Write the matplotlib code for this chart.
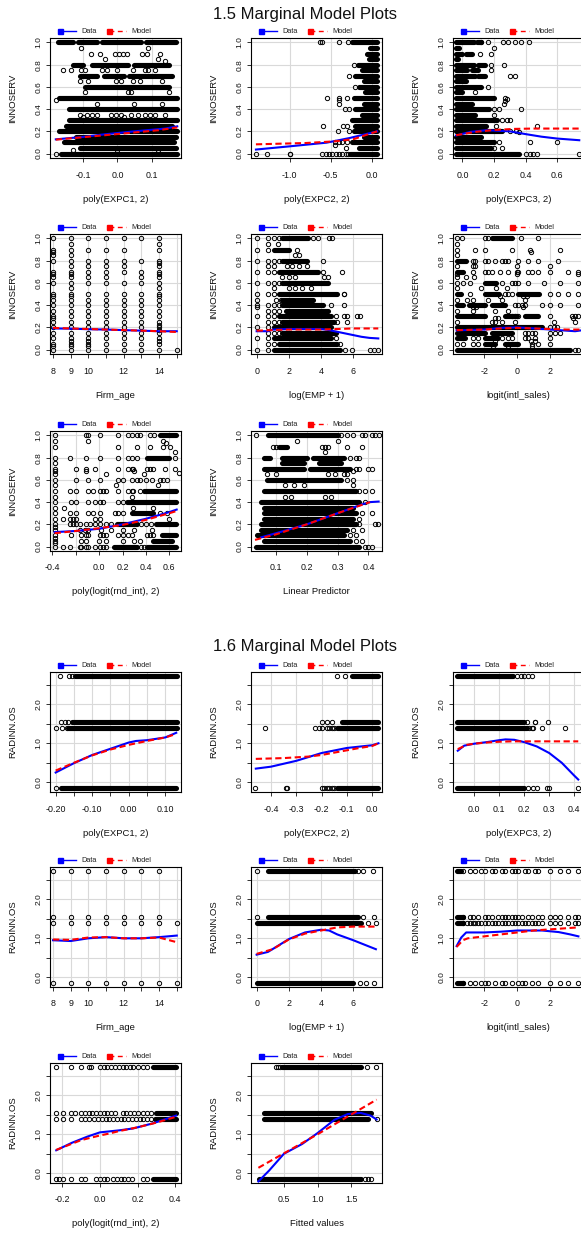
import matplotlib
matplotlib.use("Agg")
import matplotlib.pyplot as plt

plt.rcParams['font.family'] = ['Liberation Sans', 'DejaVu Sans']
plt.rcParams['lines.scale_dashes'] = False

W, H, DPI = 581, 1233, 100

# ---------------------------------------------------------------- data
# Dense runs of overlapping points are stored as (y, x_from, x_to);
# isolated points as (y, [x, ...]) rows or (x, [y, ...]) columns.

# ===== 1.5  INNOSERV =====
expc1_runs = [(1.0, -0.175, -0.13), (1.0, -0.115, -0.06), (1.0, -0.045, 0.07), (1.0, 0.085, 0.17),
              (0.8, -0.13, -0.10), (0.8, -0.075, 0.03), (0.8, 0.05, 0.15),
              (0.7, -0.11, -0.06), (0.7, -0.04, 0.02), (0.7, 0.035, 0.16),
              (0.6, -0.095, 0.15), (0.5, -0.17, 0.175), (0.4, -0.14, 0.175),
              (0.3, -0.14, 0.175), (0.25, -0.15, 0.16), (0.2, -0.17, 0.175),
              (0.15, -0.12, 0.17), (0.1, -0.155, 0.165), (0.05, -0.11, 0.17),
              (0.0, -0.165, 0.175)]
expc1_rows = [(0.95, [-0.105, 0.09]),
              (0.9, [-0.078, -0.051, -0.006, 0.005, 0.016, 0.028, 0.072, 0.086, 0.125]),
              (0.85, [-0.035, 0.12]), (0.83, [0.14]),
              (0.75, [-0.16, -0.135, -0.105, -0.095, -0.045, -0.03, 0.0, 0.045, 0.08, 0.09, 0.11]),
              (0.65, [-0.11, -0.085, -0.005, 0.01, 0.045, 0.065, 0.13]),
              (0.55, [-0.095, 0.03, 0.04, 0.15]), (0.48, [-0.18]),
              (0.45, [-0.06, 0.05, 0.13]),
              (0.35, [-0.11, -0.09, -0.075, -0.06, -0.02, -0.005, 0.01, 0.04, 0.06, 0.08, 0.095, 0.11, 0.14]),
              (0.33, [-0.1, 0.02]), (0.03, [-0.13, 0.0, 0.12]), (0.0, [-0.18])]
expc1_data = [(-0.18, 0.128), (-0.1, 0.15), (-0.047, 0.17), (0.05, 0.2), (0.14, 0.225), (0.175, 0.245)]
expc1_model = [(-0.18, 0.125), (-0.09, 0.15), (0.05, 0.19), (0.12, 0.21), (0.175, 0.235)]

expc2_runs = [(1.0, -0.24, 0.065), (0.95, -0.02, 0.065), (0.9, -0.06, 0.065), (0.85, -0.03, 0.065),
              (0.8, -0.17, 0.065), (0.75, -0.12, 0.065), (0.7, -0.2, 0.065), (0.65, -0.1, 0.065),
              (0.6, -0.15, 0.065), (0.55, -0.08, 0.065), (0.5, -0.22, 0.065), (0.45, -0.1, 0.065),
              (0.4, -0.2, 0.065), (0.35, -0.12, 0.065), (0.3, -0.24, 0.065), (0.25, -0.2, 0.065),
              (0.2, -0.22, 0.065), (0.15, -0.1, 0.065), (0.1, -0.24, 0.065), (0.05, -0.15, 0.065),
              (0.0, -0.26, 0.065)]
expc2_rows = [(1.0, [-0.63, -0.6, -0.4, -0.29]), (0.8, [-0.22]), (0.7, [-0.28]), (0.6, [-0.2]),
              (0.5, [-0.55, -0.4, -0.3]), (0.48, [-0.4]), (0.45, [-0.4]), (0.4, [-0.33, -0.28]),
              (0.25, [-0.59, -0.35, -0.3]), (0.2, [-0.41, -0.28]), (0.1, [-0.45, -0.4, -0.36, -0.3]),
              (0.08, [-0.45]), (0.05, [-0.31]),
              (0.0, [-1.41, -1.27, -1.0, -0.99, -0.6, -0.56, -0.52, -0.48, -0.44, -0.4, -0.36, -0.32, -0.29])]
expc2_data = [(-1.41, 0.036), (-1.0, 0.065), (-0.55, 0.098), (-0.27, 0.14), (-0.1, 0.17), (0.065, 0.2)]
expc2_model = [(-1.41, 0.083), (-0.8, 0.095), (-0.45, 0.11), (-0.22, 0.13), (-0.06, 0.17), (0.065, 0.2)]

expc3_runs = [(1.0, -0.04, 0.07), (1.0, 0.09, 0.12), (0.95, -0.04, -0.02), (0.9, -0.04, 0.0),
              (0.9, 0.02, 0.06), (0.85, -0.04, -0.03), (0.8, -0.04, 0.07), (0.8, 0.1, 0.14),
              (0.75, -0.04, 0.03), (0.75, 0.06, 0.1), (0.7, -0.04, 0.08), (0.7, 0.1, 0.14),
              (0.65, -0.04, 0.02), (0.6, -0.04, 0.12), (0.55, -0.04, 0.0), (0.5, -0.04, 0.2),
              (0.45, -0.04, 0.06), (0.4, -0.04, 0.17), (0.35, -0.04, 0.08), (0.3, -0.04, 0.22),
              (0.25, -0.04, 0.15), (0.2, -0.04, 0.25), (0.15, -0.04, 0.12), (0.1, -0.04, 0.2),
              (0.05, -0.04, 0.18), (0.0, -0.04, 0.36)]
expc3_rows = [(1.0, [0.12, 0.163, 0.256, 0.288, 0.33, 0.37, 0.42]), (0.95, [0.2]),
              (0.9, [0.11, 0.18]), (0.8, [0.18, 0.26]), (0.75, [0.18]), (0.7, [0.3, 0.33]),
              (0.6, [0.16]), (0.55, [0.08]), (0.5, [0.27]), (0.49, [0.28]), (0.47, [0.27]),
              (0.45, [0.26]), (0.4, [0.2, 0.23, 0.37]), (0.35, [0.2]), (0.3, [0.25, 0.28, 0.3]),
              (0.25, [0.21, 0.47]), (0.2, [0.3, 0.34]), (0.19, [0.36]), (0.1, [0.23, 0.43, 0.6]),
              (0.05, [0.2, 0.25]), (0.0, [0.4, 0.43, 0.45, 0.47, 0.74])]
expc3_data = [(-0.04, 0.163), (0.05, 0.195), (0.15, 0.21), (0.3, 0.2), (0.4, 0.175),
              (0.5, 0.152), (0.6, 0.135), (0.74, 0.12)]
expc3_model = [(-0.04, 0.165), (0.08, 0.195), (0.2, 0.212), (0.33, 0.222), (0.45, 0.225), (0.74, 0.225)]

age_cols = [(8, [1.0, 0.9, 0.88, 0.85, 0.8, 0.7, 0.68, 0.65, 0.6, 0.5, 0.48, 0.45, 0.4, 0.35, 0.3,
                 0.28, 0.25, 0.2, 0.15, 0.1, 0.05, 0.03, 0.0]),
            (9, [1.0, 0.95, 0.9, 0.85, 0.8, 0.75, 0.7, 0.68, 0.65, 0.6, 0.55, 0.5, 0.48, 0.45, 0.4,
                 0.35, 0.3, 0.25, 0.2, 0.15, 0.1, 0.08, 0.05, 0.03, 0.0]),
            (10, [1.0, 0.9, 0.8, 0.75, 0.7, 0.65, 0.6, 0.5, 0.45, 0.4, 0.35, 0.3, 0.25, 0.2, 0.15,
                  0.1, 0.08, 0.05, 0.03, 0.0]),
            (11, [1.0, 0.9, 0.8, 0.75, 0.7, 0.65, 0.6, 0.5, 0.45, 0.4, 0.35, 0.3, 0.25, 0.2, 0.15,
                  0.1, 0.05, 0.0]),
            (12, [1.0, 0.9, 0.8, 0.75, 0.7, 0.6, 0.5, 0.45, 0.4, 0.35, 0.3, 0.25, 0.2, 0.15, 0.1,
                  0.05, 0.0]),
            (13, [1.0, 0.8, 0.7, 0.65, 0.6, 0.5, 0.45, 0.4, 0.35, 0.3, 0.25, 0.2, 0.15, 0.1, 0.05, 0.0]),
            (14, [1.0, 0.95, 0.9, 0.8, 0.78, 0.75, 0.7, 0.68, 0.65, 0.6, 0.55, 0.5, 0.48, 0.45, 0.4,
                  0.35, 0.3, 0.25, 0.22, 0.2, 0.18, 0.15, 0.1, 0.08, 0.05, 0.0]),
            (15, [0.0])]
age_data = [(8, 0.19), (9, 0.188), (10, 0.183), (11, 0.18), (12, 0.175), (13, 0.17), (14, 0.165), (15, 0.165)]
age_model = [(8, 0.195), (9, 0.19), (10, 0.185), (11, 0.18), (12, 0.175), (13, 0.17), (14, 0.165), (15, 0.158)]

emp_runs = [(1.0, 1.6, 3.2), (0.9, 1.1, 2.0), (0.8, 1.6, 3.1), (0.7, 1.4, 3.8), (0.6, 1.6, 4.4),
            (0.5, 1.4, 5.0), (0.45, 1.6, 3.5), (0.4, 1.6, 4.1), (0.35, 1.8, 4.4), (0.3, 1.4, 4.6),
            (0.25, 1.6, 4.8), (0.2, 1.1, 4.6), (0.15, 1.6, 4.9), (0.1, 1.1, 4.6), (0.05, 1.4, 5.0),
            (0.0, 1.1, 5.2)]
emp_rows = [(1.0, [0, 0.69, 1.1, 1.39, 3.5, 3.8, 4.5, 4.7]), (0.95, [0.69, 1.3]), (0.9, [0, 0.69, 2.5]),
            (0.85, [2.4, 2.6]), (0.8, [0, 0.69, 1.1, 1.39, 4.1]), (0.75, [0.69, 1.1, 1.9, 2.2, 2.6, 3.1]),
            (0.7, [0, 0.69, 1.1, 4.1, 5.3]), (0.65, [1.6, 2.0, 2.4, 4.2, 4.4]), (0.6, [0, 0.69, 1.1, 1.39]),
            (0.55, [1.1, 2.0, 2.4, 2.8, 3.4]), (0.5, [0, 0.69, 1.1, 5.4, 5.45]), (0.45, [0, 1.2, 1.5]),
            (0.4, [0, 0.69, 1.1, 1.39, 4.6, 5.4]), (0.38, [0]), (0.35, [0.69, 1.1, 1.39]),
            (0.3, [0, 0.69, 1.1, 4.9, 5.4, 5.6, 6.2, 6.4]), (0.25, [0.69, 1.1, 1.39, 5.0, 5.6]),
            (0.2, [0, 0.69]), (0.15, [0.69, 1.1, 1.39]), (0.1, [0, 0.69, 4.9]),
            (0.05, [0.69, 1.1, 5.2]), (0.0, [0, 0.69, 5.5, 5.9, 7.04, 7.3, 7.55])]
emp_data = [(0, 0.165), (0.7, 0.165), (1.0, 0.18), (2, 0.185), (3, 0.185), (4, 0.185), (4.5, 0.175),
            (5, 0.16), (5.5, 0.145), (6, 0.13), (6.5, 0.115), (7, 0.105), (7.55, 0.1)]
emp_model = [(0, 0.17), (1, 0.175), (2, 0.18), (4, 0.18), (5, 0.185), (6, 0.19), (7.55, 0.19)]

intl_runs = [(1.0, -1.55, -0.3), (0.8, -3.68, -3.1), (0.7, -3.68, -3.3), (0.6, -1.95, -1.3),
             (0.5, -3.68, -3.4), (0.5, -1.95, -1.1), (0.5, 0.06, 1.3), (0.4, -3.68, -3.3),
             (0.4, -2.9, -1.95), (0.4, -1.55, -0.75), (0.3, -3.68, -1.95), (0.3, -0.75, 0.0),
             (0.3, 0.47, 1.27), (0.2, -3.68, 1.5), (0.15, -3.68, -1.95), (0.15, -1.55, -0.34),
             (0.1, -3.68, -3.2), (0.1, -1.95, -1.15), (0.05, -1.95, -1.35), (0.05, -0.75, 0.06),
             (0.0, -3.68, 3.2)]
intl_rows = [(1.0, [-3.68, -3.38, -1.95, -1.75, 0.2, 1.27]), (0.95, [-3.68]),
             (0.9, [-3.68, -2.56, -1.95, -0.34, 0.77, 2.6]), (0.88, [0.8]), (0.85, [-3.68]),
             (0.8, [-2.66, -2.56, -1.95, -1.75, -1.35, -0.95, -0.75, -0.55, 0.06, 0.67, 1.27, 2.49]),
             (0.75, [-3.68, -2.7, -2.56, -0.05, 1.98]),
             (0.7, [-2.66, -1.95, -1.75, -1.55, -1.05, -0.55, -0.05, 0.06, 0.67, 0.87, 1.27, 1.98, 3.09, 3.7]),
             (0.68, [-3.68, -0.05, 3.7]), (0.65, [-3.68, -3.1, -2.6]),
             (0.6, [-3.68, -3.27, -2.87, -0.95, -0.34, -0.14, 0.06, 0.67, 1.6, 2.59, 3.7]),
             (0.55, [-3.68, -2.2, -1.3, -0.6]),
             (0.5, [-2.87, -0.75, -0.55, -0.34, 1.98, 2.49, 3.09, 3.7]), (0.48, [-1.05, 0.37, 0.57]),
             (0.45, [-3.68, -3.07, -2.66, -1.75, -0.95, 0.47]),
             (0.4, [-2.8, -0.14, 0.06, 0.26, 0.47, 1.48, 1.98, 2.59, 3.7]), (0.38, [-2.66, -2.5, 0.37]),
             (0.35, [-3.68, -2.66, -1.35, -0.55]), (0.3, [-0.34, -0.14, 0.06, 1.98, 3.29, 3.5, 3.7]),
             (0.28, [-1.35, -1.2, 3.4]), (0.25, [-3.68, -1.55, -1.35, -0.95, -0.14, 2.2, 3.5]),
             (0.2, [1.98, 2.2, 2.4]), (0.15, [0.47, 0.67, 0.87, 1.07, 1.98, 2.29, 2.59]),
             (0.1, [-2.66, -2.36, -0.95, -0.55, -0.34, 0.47, 0.67, 1.07, 1.98]), (0.08, [-1.35, 0.8, 1.07]),
             (0.05, [-3.68, -3.27, -2.66, -2.36, 0.87, 1.27, 2.0]), (0.03, [-1.5, -0.55, 0.9]),
             (0.0, [3.5, 3.7])]
intl_data = [(-3.68, 0.173), (-2.5, 0.178), (-2, 0.18), (-1, 0.195), (0, 0.2), (1, 0.19), (2, 0.18),
             (3, 0.17), (3.5, 0.165), (4.0, 0.175)]
intl_model = [(-3.68, 0.175), (-2, 0.18), (-1, 0.19), (0, 0.195), (1, 0.19), (2, 0.185), (3, 0.18), (4.0, 0.18)]

rnd_col_x = -0.38
rnd_col_y = [1.0, 0.95, 0.9, 0.8, 0.75, 0.7, 0.68, 0.65, 0.6, 0.55, 0.5, 0.45, 0.4, 0.35, 0.3,
             0.25, 0.2, 0.18, 0.15, 0.1, 0.08, 0.05, 0.03, 0.0]
rnd_runs = [(1.0, 0.52, 0.66), (0.8, 0.41, 0.6), (0.5, 0.38, 0.66), (0.4, 0.24, 0.66),
            (0.3, 0.28, 0.46), (0.2, 0.15, 0.32), (0.2, 0.49, 0.66), (0.1, 0.54, 0.66),
            (0.05, 0.46, 0.62), (0.0, 0.13, 0.32), (0.0, 0.41, 0.66)]
rnd_rows = [(1.0, [-0.109, -0.094, 0.006, 0.163, 0.249, 0.278, 0.32, 0.349, 0.435, 0.47]),
            (0.95, [-0.094, 0.55]), (0.93, [0.57]), (0.9, [0.163, 0.32, 0.435, 0.549, 0.606]),
            (0.85, [0.65]), (0.8, [-0.25, -0.109, 0.006, 0.163, 0.249, 0.278, 0.32, 0.65]),
            (0.7, [-0.194, -0.109, -0.037, 0.163, 0.249, 0.278, 0.292, 0.406, 0.435, 0.463, 0.563, 0.649]),
            (0.68, [-0.109, 0.3]), (0.66, [0.68]), (0.65, [0.06, 0.38]),
            (0.6, [-0.194, -0.094, 0.006, 0.163, 0.206, 0.278, 0.32, 0.349, 0.4, 0.45, 0.52, 0.55, 0.58]),
            (0.55, [0.14, 0.5]),
            (0.5, [-0.25, -0.194, -0.094, -0.05, 0.006, 0.035, 0.063, 0.163, 0.249, 0.278, 0.292, 0.349]),
            (0.45, [0.28]), (0.4, [-0.237, -0.194, -0.094, -0.037, 0.006, 0.035, 0.163, 0.206]),
            (0.35, [-0.3, 0.29, 0.46]),
            (0.3, [-0.25, -0.194, -0.094, -0.05, 0.006, 0.135, 0.163, 0.206, 0.52, 0.58]),
            (0.25, [-0.31, -0.25, -0.22, -0.194, -0.037, 0.006, 0.6]),
            (0.2, [-0.25, -0.22, -0.194, -0.166, -0.109, -0.08, -0.037, 0.006, 0.063, 0.1, 0.36, 0.4, 0.44]),
            (0.15, [-0.166, -0.12, -0.094, 0.02, 0.1, 0.2, 0.3, 0.45]),
            (0.1, [-0.237, -0.152, -0.109, -0.094, 0.006, 0.035, 0.063, 0.163, 0.206, 0.249, 0.278, 0.406, 0.435, 0.463]),
            (0.05, [-0.152, -0.109, 0.0, 0.06, 0.2, 0.3, 0.35]),
            (0.0, [-0.31, -0.25, -0.166, -0.152, -0.109, -0.094, -0.037, 0.006, 0.035, 0.063, 0.36, 0.38])]
rnd_data = [(-0.38, 0.13), (-0.2, 0.14), (0.0, 0.16), (0.2, 0.2), (0.4, 0.25), (0.6, 0.31), (0.663, 0.333)]
rnd_model = [(-0.38, 0.12), (-0.2, 0.14), (0.0, 0.165), (0.2, 0.195), (0.4, 0.24), (0.6, 0.3), (0.663, 0.32)]

lp_runs = [(1.0, 0.075, 0.3), (0.9, 0.11, 0.135), (0.8, 0.06, 0.08), (0.8, 0.12, 0.2), (0.8, 0.22, 0.32),
           (0.75, 0.12, 0.19), (0.75, 0.24, 0.31), (0.7, 0.06, 0.19), (0.7, 0.21, 0.34),
           (0.6, 0.07, 0.31), (0.5, 0.06, 0.36), (0.4, 0.05, 0.37), (0.35, 0.06, 0.35),
           (0.3, 0.06, 0.36), (0.25, 0.06, 0.35), (0.2, 0.05, 0.36), (0.15, 0.05, 0.33),
           (0.1, 0.04, 0.32), (0.05, 0.06, 0.34), (0.0, 0.036, 0.37)]
lp_rows = [(1.0, [0.036, 0.31, 0.33, 0.35, 0.38, 0.39, 0.41, 0.422, 0.433]), (0.95, [0.167, 0.3]),
           (0.9, [0.09, 0.1, 0.25, 0.26, 0.27, 0.33, 0.38]), (0.85, [0.26]), (0.8, [0.34, 0.36, 0.37]),
           (0.7, [0.36, 0.37, 0.4, 0.41]), (0.68, [0.35]), (0.65, [0.07, 0.1, 0.27, 0.29, 0.32, 0.33]),
           (0.6, [0.33, 0.35]), (0.55, [0.13, 0.16, 0.19, 0.35]), (0.5, [0.37, 0.39, 0.41]),
           (0.45, [0.13, 0.15, 0.26, 0.28]), (0.4, [0.39]), (0.3, [0.38, 0.41]), (0.25, [0.37]),
           (0.2, [0.37, 0.422, 0.43]), (0.15, [0.35, 0.38]), (0.1, [0.34, 0.36]), (0.05, [0.36, 0.38]),
           (0.0, [0.39, 0.4, 0.41])]
lp_data = [(0.052, 0.083), (0.1, 0.12), (0.2, 0.2), (0.3, 0.3), (0.38, 0.38), (0.405, 0.4), (0.433, 0.405)]
lp_model = [(0.032, 0.06), (0.1, 0.11), (0.2, 0.2), (0.3, 0.3), (0.405, 0.4)]

# ===== 1.6  RADINN.OS =====
LO, M1, M2, HI = -0.135, 1.385, 1.535, 2.72

r_expc1_runs = [(HI, -0.147, 0.131), (M2, -0.155, 0.131), (M1, -0.165, 0.131), (LO, -0.185, 0.128)]
r_expc1_rows = [(HI, [-0.188, -0.163, -0.155]), (M2, [-0.185, -0.175, -0.165]),
                (M1, [-0.2, -0.183, -0.17]), (LO, [-0.2])]
r_expc1_data = [(-0.2, 0.25), (-0.15, 0.49), (-0.1, 0.70), (-0.05, 0.86), (0.0, 1.02), (0.02, 1.06),
                (0.05, 1.08), (0.1, 1.15), (0.13, 1.27)]
r_expc1_model = [(-0.2, 0.3), (-0.15, 0.5), (-0.1, 0.69), (-0.05, 0.84), (0.0, 0.96), (0.05, 1.06),
                 (0.1, 1.15), (0.13, 1.24)]

r_expc2_runs = [(HI, -0.081, 0.025), (M2, -0.12, 0.025), (M1, -0.14, 0.025), (LO, -0.14, 0.025)]
r_expc2_rows = [(HI, [-0.14, -0.107]), (M2, [-0.2, -0.18, -0.16]),
                (M1, [-0.424, -0.225, -0.21, -0.2, -0.18, -0.17, -0.16, -0.15]),
                (LO, [-0.463, -0.34, -0.335, -0.2, -0.19, -0.18, -0.17, -0.16, -0.15])]
r_expc2_data = [(-0.46, 0.35), (-0.4, 0.4), (-0.3, 0.55), (-0.2, 0.75), (-0.1, 0.88), (0.0, 0.95), (0.025, 1.0)]
r_expc2_model = [(-0.46, 0.6), (-0.35, 0.62), (-0.25, 0.66), (-0.2, 0.7), (-0.1, 0.82), (-0.05, 0.88),
                 (0.0, 0.93), (0.025, 1.0)]

r_expc3_runs = [(HI, -0.071, 0.156), (M2, -0.071, 0.2), (M1, -0.071, 0.21), (LO, -0.071, 0.2)]
r_expc3_rows = [(HI, [0.17, 0.185, 0.2, 0.215, 0.23]), (M2, [0.21, 0.243, 0.244, 0.296]),
                (M1, [0.22, 0.23, 0.236, 0.27, 0.363]), (LO, [0.216, 0.236, 0.25, 0.29, 0.299, 0.416])]
r_expc3_data = [(-0.066, 0.81), (-0.04, 0.94), (0.0, 0.99), (0.05, 1.03), (0.1, 1.08), (0.125, 1.1),
                (0.16, 1.09), (0.2, 1.03), (0.25, 0.92), (0.3, 0.75), (0.35, 0.5), (0.4, 0.17), (0.416, 0.07)]
r_expc3_model = [(-0.066, 0.85), (-0.03, 0.96), (0.0, 0.99), (0.05, 1.02), (0.1, 1.04), (0.15, 1.05),
                 (0.2, 1.05), (0.3, 1.05), (0.416, 1.05)]

r_age_cols = [(8, [HI, M2, M1, LO]), (9, [HI, M2, M1, LO]), (10, [HI, M2, M1, LO]), (11, [HI, M2, M1, LO]),
              (12, [HI, M2, M1, LO]), (13, [HI, M2, M1, LO]), (14, [HI, M2, M1, LO]), (15, [M1, LO])]
r_age_data = [(8, 0.95), (9, 0.93), (10, 1.0), (11, 1.03), (12, 1.0), (13, 1.0), (14, 1.03), (15, 1.07)]
r_age_model = [(8, 0.97), (9, 0.96), (10, 1.02), (11, 1.03), (12, 1.0), (13, 1.0), (14, 1.02), (15, 0.9)]

r_emp_runs = [(HI, 0.69, 6.1), (M2, 0.69, 6.3), (M1, 0.0, 6.5), (LO, 0.0, 6.0)]
r_emp_rows = [(HI, [0, 6.3, 6.6, 7.2]), (M2, [0, 6.6, 7.3]), (M1, [6.9, 7.4]), (LO, [6.4, 6.8, 7.3])]
r_emp_data = [(0, 0.58), (0.7, 0.65), (1.1, 0.75), (2, 0.98), (3, 1.15), (4, 1.22), (4.5, 1.2), (5, 1.1),
              (6, 0.95), (7.4, 0.72)]
r_emp_model = [(0, 0.6), (1, 0.72), (2, 0.97), (3, 1.12), (4, 1.2), (5, 1.28), (6, 1.3), (7.4, 1.3)]

r_intl_runs = [(HI, -3.68, -3.4), (M2, -3.68, -3.3), (M1, -3.68, -3.3), (LO, -3.68, -3.3)]
r_intl_rows = [(HI, [-3.27, -2.87, -2.56, -2.2, -1.95, -1.55, -1.35, -0.95, -0.75, -0.34, -0.14, 0.06,
                     0.47, 0.67, 1.07, 1.27, 1.98, 2.59, 3.09, 3.7]),
               (M2, [-3.27, -2.87, -2.66, -2.36, -1.95, -1.75, -1.55, -1.15, -0.95, -0.75, -0.55, -0.34,
                     -0.14, 0.06, 0.26, 0.67, 0.87, 1.27, 1.48, 1.98, 2.29, 2.59, 3.09, 3.5, 3.7]),
               (M1, [-3.27, -3.07, -2.87, -2.66, -2.56, -2.36, -2.2, -1.95, -1.75, -1.55, -1.35, -1.15,
                     -0.95, -0.75, -0.55, -0.34, -0.14, 0.06, 0.26, 0.47, 0.67, 0.87, 1.07, 1.27, 1.48,
                     1.98, 2.29, 2.59, 3.09, 3.5, 3.7]),
               (LO, [-3.27, -2.87, -2.56, -2.2, -1.95, -1.75, -1.35, -0.95, -0.75, -0.34, 0.06, 0.26,
                     0.47, 0.87, 1.27, 1.98, 2.59, 3.09, 3.7])]
r_intl_data = [(-3.68, 0.8), (-3.4, 1.02), (-3.1, 1.15), (-2, 1.15), (-1, 1.17), (0, 1.2), (1.5, 1.2),
               (2.5, 1.16), (3.2, 1.1), (3.7, 1.05)]
r_intl_model = [(-3.68, 0.78), (-3.3, 0.95), (-3, 1.0), (-2, 1.05), (-1, 1.1), (0, 1.15), (1, 1.2),
                (2, 1.23), (3, 1.26), (3.7, 1.28)]

r_rnd_runs = [(HI, 0.28, 0.404), (M2, 0.3, 0.404), (M1, 0.29, 0.404), (LO, 0.28, 0.404)]
r_rnd_rows = [(HI, [-0.232, -0.155, -0.1, -0.06, -0.05, 0.0, 0.02, 0.04, 0.06, 0.08, 0.1, 0.12, 0.14,
                    0.16, 0.176, 0.2, 0.23, 0.25]),
              (M2, [-0.232, -0.195, -0.155, -0.135, -0.1, -0.08, -0.056, -0.04, -0.02, 0.0, 0.02, 0.04,
                    0.06, 0.08, 0.12, 0.14, 0.16, 0.18, 0.2, 0.23, 0.25, 0.27]),
              (M1, [-0.232, -0.195, -0.155, -0.1, -0.08, -0.06, -0.03, -0.01, 0.01, 0.03, 0.05, 0.07,
                    0.09, 0.11, 0.13, 0.15, 0.17, 0.19, 0.21, 0.23, 0.25, 0.27]),
              (LO, [-0.232, -0.215, -0.195, -0.155, -0.1, -0.08, -0.02, 0.0, 0.02, 0.04, 0.07, 0.09,
                    0.11, 0.13, 0.15, 0.17, 0.23, 0.25])]
r_rnd_data = [(-0.232, 0.59), (-0.15, 0.78), (-0.067, 0.94), (0.0, 1.05), (0.1, 1.1), (0.176, 1.15),
              (0.28, 1.28), (0.404, 1.48)]
r_rnd_model = [(-0.232, 0.6), (-0.1, 0.85), (0.0, 0.97), (0.05, 1.02), (0.1, 1.08), (0.2, 1.18),
               (0.3, 1.3), (0.404, 1.45)]

r_fit_runs = [(HI, 0.47, 1.64), (M2, 0.21, 1.79), (M1, 0.21, 1.75), (LO, 0.13, 1.64)]
r_fit_rows = [(HI, [0.38, 0.41, 0.44, 1.73, 1.87]), (M1, [1.88]), (LO, [1.7, 1.75, 1.8])]
r_fit_data = [(0.12, -0.21), (0.28, 0.07), (0.5, 0.5), (0.77, 0.75), (1.0, 1.03), (1.25, 1.37),
              (1.45, 1.52), (1.64, 1.55), (1.79, 1.48), (1.88, 1.38)]
r_fit_model = [(0.12, 0.14), (1.0, 1.0), (1.88, 1.89)]

# ---------------------------------------------------------------- layout
PW, PH = 131, 120
COLS = [50, 251, 453]
ROWS_A = [38, 234, 431]
ROWS_B = [672, 867, 1063]

fig = plt.figure(figsize=(W / DPI, H / DPI), dpi=DPI)
fig.patch.set_facecolor('white')
over = fig.add_axes([0, 0, 1, 1])
over.set_xlim(0, W)
over.set_ylim(H, 0)
over.axis('off')

INNO_YT = [0, 0.2, 0.4, 0.6, 0.8, 1.0]
INNO_YL = ['0.0', '0.2', '0.4', '0.6', '0.8', '1.0']
RAD_YT = [0, 0.5, 1.0, 1.5, 2.0, 2.5]
RAD_YL = ['0.0', '', '1.0', '', '2.0', '']


def split_rows(rows):
    xs, ys = [], []
    for y, xl in rows:
        xs += list(xl)
        ys += [y] * len(xl)
    return xs, ys


def split_cols(cols):
    xs, ys = [], []
    for x, yl in cols:
        xs += [x] * len(yl)
        ys += list(yl)
    return xs, ys


def panel(col, top, xlim, ylim, xticks, xlabels, yticks, ylabels, xlabel, ylabel,
          data, model, runs=(), rows=(), cols=()):
    left = COLS[col]
    ax = fig.add_axes([left / W, 1 - (top + PH) / H, PW / W, PH / H])
    ax.set_xlim(*xlim)
    ax.set_ylim(*ylim)
    ax.set_xticks(xticks)
    ax.set_xticklabels(xlabels)
    ax.set_yticks(yticks)
    ax.set_yticklabels(ylabels, rotation=90, va='center', ha='right')
    ax.grid(True, color='#d9d9d9', lw=0.8)
    ax.set_axisbelow(True)
    for s in ax.spines.values():
        s.set_linewidth(0.8)
        s.set_color('black')
    ax.tick_params(axis='x', direction='out', length=3, width=0.6, labelsize=6.4, pad=6, colors='#111111')
    ax.tick_params(axis='y', direction='out', length=3, width=0.6, labelsize=6.0, pad=2.5, colors='#111111')

    if runs:
        ax.hlines([r[0] for r in runs], [r[1] for r in runs], [r[2] for r in runs],
                  colors='black', linewidth=3.7, capstyle='round', zorder=2)
    xs, ys = [], []
    if rows:
        a, b = split_rows(rows)
        xs += a
        ys += b
    if cols:
        a, b = split_cols(cols)
        xs += a
        ys += b
    if xs:
        ax.plot(xs, ys, 'o', ls='none', mfc='none', mec='black', ms=3.1, mew=0.7, zorder=2)

    ax.plot([p[0] for p in data], [p[1] for p in data], color='#0000ff', lw=1.5, zorder=3)
    ax.plot([p[0] for p in model], [p[1] for p in model], color='#ff0000', lw=1.5,
            dashes=(4.5, 2.5), zorder=4)

    # legend strip above the panel
    ly = top - 7
    over.plot([left + 9.5, left + 26], [ly, ly], color='#0000ff', lw=1.0)
    over.plot([left + 9.5], [ly], 's', color='#0000ff', ms=3.6)
    over.text(left + 31, ly + 0.5, 'Data', fontsize=5.3, color='#222222', ha='left', va='center')
    over.plot([left + 59, left + 76], [ly, ly], color='#ff0000', lw=1.0, dashes=(3.5, 2.5))
    over.plot([left + 59], [ly], 's', color='#ff0000', ms=3.6)
    over.text(left + 81, ly + 0.5, 'Model', fontsize=5.3, color='#222222', ha='left', va='center')

    over.text(left + PW / 2, top + PH + 41, xlabel, fontsize=6.8, ha='center', va='center', color='#111111')
    over.text(left - 37, top + PH / 2, ylabel, fontsize=6.8, ha='center', va='center',
              rotation=90, color='#111111')
    return ax


over.text(305, 14, '1.5 Marginal Model Plots', fontsize=12, ha='center', va='center', color='#111111')
over.text(305, 647, '1.6 Marginal Model Plots', fontsize=12, ha='center', va='center', color='#111111')

IY = (-0.04, 1.04)
RY = (-0.25, 2.83)

panel(0, ROWS_A[0], (-0.197, 0.186), IY, [-0.1, 0.0, 0.1], ['-0.1', '0.0', '0.1'], INNO_YT, INNO_YL,
      'poly(EXPC1, 2)', 'INNOSERV', expc1_data, expc1_model, runs=expc1_runs, rows=expc1_rows)
panel(1, ROWS_A[0], (-1.47, 0.124), IY, [-1.0, -0.5, 0.0], ['-1.0', '-0.5', '0.0'], INNO_YT, INNO_YL,
      'poly(EXPC2, 2)', 'INNOSERV', expc2_data, expc2_model, runs=expc2_runs, rows=expc2_rows)
panel(2, ROWS_A[0], (-0.06, 0.77), IY, [0.0, 0.2, 0.4, 0.6], ['0.0', '0.2', '0.4', '0.6'], INNO_YT, INNO_YL,
      'poly(EXPC3, 2)', 'INNOSERV', expc3_data, expc3_model, runs=expc3_runs, rows=expc3_rows)
panel(0, ROWS_A[1], (7.83, 15.24), IY, [8, 9, 10, 11, 12, 13, 14, 15], ['8', '9', '10', '', '12', '', '14', ''],
      INNO_YT, INNO_YL, 'Firm_age', 'INNOSERV', age_data, age_model, cols=age_cols)
panel(1, ROWS_A[1], (-0.35, 7.78), IY, [0, 2, 4, 6], ['0', '2', '4', '6'], INNO_YT, INNO_YL,
      'log(EMP + 1)', 'INNOSERV', emp_data, emp_model, runs=emp_runs, rows=emp_rows)
panel(2, ROWS_A[1], (-3.9, 4.04), IY, [-2, 0, 2], ['-2', '0', '2'], INNO_YT, INNO_YL,
      'logit(intl_sales)', 'INNOSERV', intl_data, intl_model, runs=intl_runs, rows=intl_rows)
panel(0, ROWS_A[2], (-0.42, 0.70), IY, [-0.4, -0.2, 0.0, 0.2, 0.4, 0.6], ['-0.4', '', '0.0', '0.2', '0.4', '0.6'],
      INNO_YT, INNO_YL, 'poly(logit(rnd_int), 2)', 'INNOSERV', rnd_data, rnd_model,
      runs=rnd_runs, rows=rnd_rows, cols=[(rnd_col_x, rnd_col_y)])
panel(1, ROWS_A[2], (0.019, 0.444), IY, [0.1, 0.2, 0.3, 0.4], ['0.1', '0.2', '0.3', '0.4'], INNO_YT, INNO_YL,
      'Linear Predictor', 'INNOSERV', lp_data, lp_model, runs=lp_runs, rows=lp_rows)

panel(0, ROWS_B[0], (-0.2155, 0.143), RY, [-0.2, -0.15, -0.1, -0.05, 0.0, 0.05, 0.1],
      ['-0.20', '', '-0.10', '', '0.00', '', '0.10'], RAD_YT, RAD_YL,
      'poly(EXPC1, 2)', 'RADINN.OS', r_expc1_data, r_expc1_model, runs=r_expc1_runs, rows=r_expc1_rows)
panel(1, ROWS_B[0], (-0.479, 0.039), RY, [-0.4, -0.3, -0.2, -0.1, 0.0], ['-0.4', '-0.3', '-0.2', '-0.1', '0.0'],
      RAD_YT, RAD_YL, 'poly(EXPC2, 2)', 'RADINN.OS', r_expc2_data, r_expc2_model,
      runs=r_expc2_runs, rows=r_expc2_rows)
panel(2, ROWS_B[0], (-0.085, 0.439), RY, [0.0, 0.1, 0.2, 0.3, 0.4], ['0.0', '0.1', '0.2', '0.3', '0.4'],
      RAD_YT, RAD_YL, 'poly(EXPC3, 2)', 'RADINN.OS', r_expc3_data, r_expc3_model,
      runs=r_expc3_runs, rows=r_expc3_rows)
panel(0, ROWS_B[1], (7.83, 15.24), RY, [8, 9, 10, 11, 12, 13, 14, 15], ['8', '9', '10', '', '12', '', '14', ''],
      RAD_YT, RAD_YL, 'Firm_age', 'RADINN.OS', r_age_data, r_age_model, cols=r_age_cols)
panel(1, ROWS_B[1], (-0.35, 7.78), RY, [0, 2, 4, 6], ['0', '2', '4', '6'], RAD_YT, RAD_YL,
      'log(EMP + 1)', 'RADINN.OS', r_emp_data, r_emp_model, runs=r_emp_runs, rows=r_emp_rows)
panel(2, ROWS_B[1], (-3.9, 4.04), RY, [-2, 0, 2], ['-2', '0', '2'], RAD_YT, RAD_YL,
      'logit(intl_sales)', 'RADINN.OS', r_intl_data, r_intl_model, runs=r_intl_runs, rows=r_intl_rows)
panel(0, ROWS_B[2], (-0.265, 0.43), RY, [-0.2, 0.0, 0.2, 0.4], ['-0.2', '0.0', '0.2', '0.4'], RAD_YT, RAD_YL,
      'poly(logit(rnd_int), 2)', 'RADINN.OS', r_rnd_data, r_rnd_model, runs=r_rnd_runs, rows=r_rnd_rows)
panel(1, ROWS_B[2], (0.01, 1.96), RY, [0.5, 1.0, 1.5], ['0.5', '1.0', '1.5'], RAD_YT, RAD_YL,
      'Fitted values', 'RADINN.OS', r_fit_data, r_fit_model, runs=r_fit_runs, rows=r_fit_rows)

fig.savefig('out.png', dpi=DPI)
